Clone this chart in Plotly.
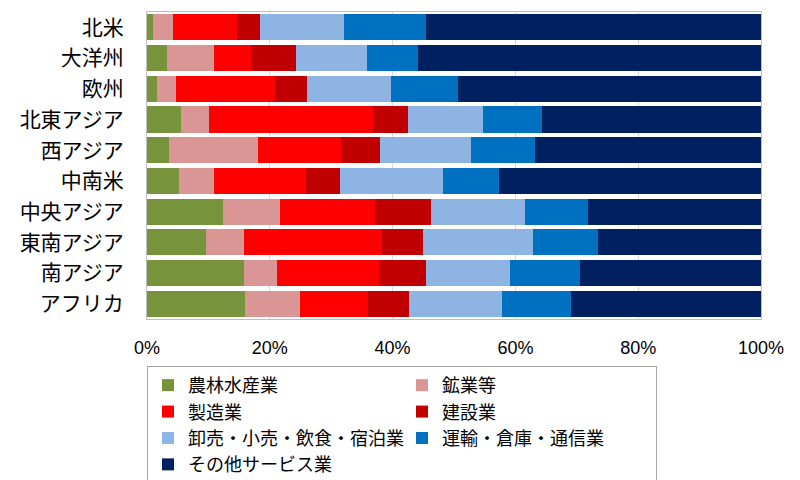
import plotly.graph_objects as go

# Regions (top to bottom) and industry shares in %
regions = ["北米", "大洋州", "欧州", "北東アジア", "西アジア",
           "中南米", "中央アジア", "東南アジア", "南アジア", "アフリカ"]

agri = [0.9, 3.3, 1.6, 5.6, 3.6, 5.2, 12.3, 9.6, 15.8, 16.0]
mining = [3.4, 7.6, 3.2, 4.5, 14.4, 5.7, 9.4, 6.2, 5.3, 8.9]
manuf = [10.4, 6.1, 16.0, 26.7, 13.6, 15.0, 15.5, 22.4, 16.7, 11.1]
constr = [3.7, 7.3, 5.2, 5.7, 6.4, 5.6, 9.1, 6.7, 7.6, 6.6]
trade = [13.7, 11.5, 13.7, 12.2, 14.8, 16.7, 15.3, 18.0, 13.7, 15.2]
transport = [13.3, 8.4, 10.9, 9.7, 10.4, 9.2, 10.3, 10.6, 11.4, 11.3]
other = [54.6, 55.8, 49.4, 35.6, 36.8, 42.6, 28.1, 26.5, 29.5, 30.9]

series = [
    ("農林水産業", agri, "#77933C"),
    ("鉱業等", mining, "#D99694"),
    ("製造業", manuf, "#FF0000"),
    ("建設業", constr, "#C00000"),
    ("卸売・小売・飲食・宿泊業", trade, "#8EB4E3"),
    ("運輸・倉庫・通信業", transport, "#0070C0"),
    ("その他サービス業", other, "#002060"),
]

fig = go.Figure()
for name, vals, color in series:
    fig.add_trace(go.Bar(
        y=regions, x=[v / 100 for v in vals], name=name, orientation="h",
        marker=dict(color=color, line=dict(width=0)),
    ))

jp = "Noto Sans CJK JP"
# page has an 8px body margin, so margins are shifted by 8
fig.update_layout(
    barmode="stack",
    bargap=0.15,
    width=800, height=480,
    margin=dict(l=139, r=47, t=4, b=169, autoexpand=False),
    plot_bgcolor="white",
    paper_bgcolor="white",
    font=dict(family=jp, color="black"),
    legend=dict(
        orientation="h", x=0, xanchor="left", y=-0.153, yanchor="top",
        entrywidth=209, entrywidthmode="pixels",
        bordercolor="#A6A6A6", borderwidth=1,
        font=dict(family=jp, size=18), traceorder="normal",
        tracegroupgap=0,
    ),
)
fig.update_xaxes(
    range=[0, 1], tickformat=".0%", dtick=0.2,
    showgrid=True, gridcolor="#D9D9D9", gridwidth=1,
    showline=True, linecolor="#BFBFBF", mirror=True,
    ticklabelstandoff=12, zeroline=False,
    tickfont=dict(family="Liberation Sans Narrow, Liberation Sans", size=18),
)
fig.update_yaxes(
    autorange="reversed",
    showline=True, linecolor="#BFBFBF", mirror=True,
    tickfont=dict(family=jp, size=21), ticklabelstandoff=18,
)

fig.write_html("out.html")
